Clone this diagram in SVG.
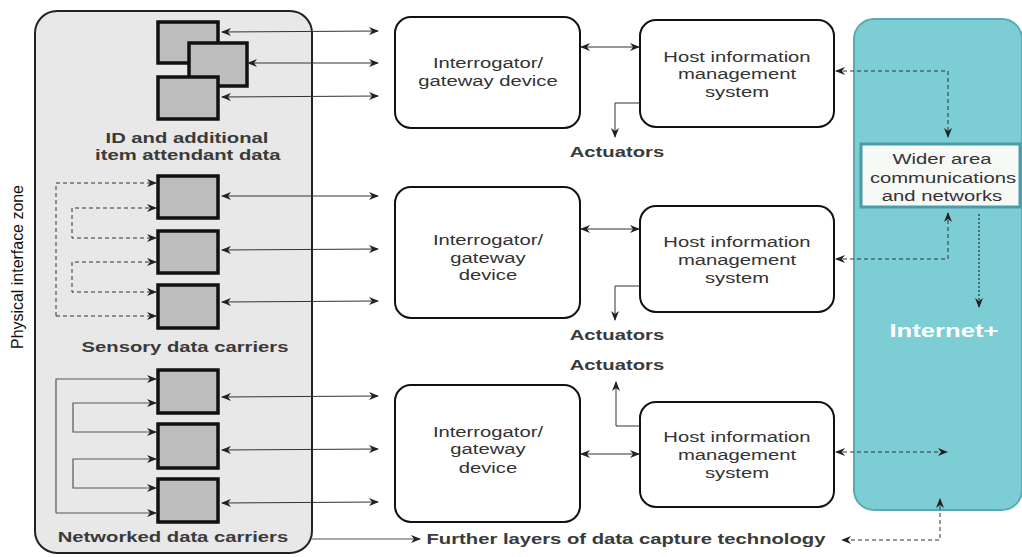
<svg xmlns="http://www.w3.org/2000/svg" width="1022" height="557" viewBox="0 0 1022 557">
<defs>
<marker id="ah" viewBox="0 0 10 8" refX="9" refY="4" markerWidth="10" markerHeight="8" markerUnits="userSpaceOnUse" orient="auto-start-reverse">
<path d="M0,0 L10,4 L0,8 L3,4 z" fill="#222"/>
</marker>
<style>
.lbl{font-family:"Liberation Sans",Arial,sans-serif;font-size:15px;fill:#333;text-anchor:middle;transform-box:fill-box;transform-origin:center;transform:scaleX(1.35)}
.vlbl{font-family:"Liberation Sans",Arial,sans-serif;font-size:17px;fill:#111;text-anchor:middle}
.bold{font-weight:bold;fill:#3a3a3a}
.sq{fill:#bdbdbd;stroke:#111;stroke-width:3.5}
.box{fill:#fff;stroke:#111;stroke-width:2}
.ln{fill:none;stroke:#333;stroke-width:1}
.gl{fill:none;stroke:#555;stroke-width:1.2}
.dash{fill:none;stroke:#333;stroke-width:1;stroke-dasharray:4,3}
.dot{fill:none;stroke:#333;stroke-width:1.3;stroke-dasharray:2,2}
</style>
</defs>
<rect width="1022" height="557" fill="#fff"/>

<g id="physical-zone">
<rect x="35" y="11" width="277" height="542" rx="22" fill="#e8e8e8" stroke="#222" stroke-width="2"/>
<text class="vlbl" transform="translate(23,267) rotate(-90)" textLength="164" lengthAdjust="spacingAndGlyphs">Physical interface zone</text>
</g>

<g id="internet">
<rect x="854" y="19" width="168" height="491" rx="20" fill="#7dcdd5" stroke="#5aaab4" stroke-width="2"/>
<text class="lbl bold" x="944" y="337" style="fill:#fff;font-size:19px">Internet+</text>
</g>

<g id="wider-area">
<rect x="861" y="144" width="159" height="63" fill="#f7f9f7" stroke="#4a9ca8" stroke-width="3"/>
<text class="lbl" x="942" y="164">Wider area</text>
<text class="lbl" x="943" y="183">communications</text>
<text class="lbl" x="942" y="201">and networks</text>
</g>

<g id="id-carriers">
<rect class="sq" x="158" y="22" width="60" height="41"/>
<rect class="sq" x="189" y="43" width="58" height="43"/>
<rect class="sq" x="158" y="77" width="60" height="42"/>
<text class="lbl bold" x="187" y="143">ID and additional</text>
<text class="lbl bold" x="188" y="160">item attendant data</text>
</g>

<g id="sensory-carriers">
<rect class="sq" x="158" y="176" width="60" height="42"/>
<rect class="sq" x="158" y="231" width="60" height="42"/>
<rect class="sq" x="158" y="285" width="60" height="43"/>
<text class="lbl bold" x="185" y="352">Sensory data carriers</text>
</g>

<g id="networked-carriers">
<rect class="sq" x="158" y="370" width="60" height="43"/>
<rect class="sq" x="158" y="424" width="60" height="44"/>
<rect class="sq" x="158" y="479" width="60" height="43"/>
<text class="lbl bold" x="173" y="542">Networked data carriers</text>
</g>

<g id="interrogator-1">
<rect class="box" x="395" y="17" width="185" height="111" rx="16"/>
<text class="lbl" x="488" y="68">Interrogator/</text>
<text class="lbl" x="488" y="86">gateway device</text>
</g>
<g id="host-1">
<rect class="box" x="640" y="20" width="194" height="107" rx="16"/>
<text class="lbl" x="737" y="62">Host information</text>
<text class="lbl" x="737" y="79">management</text>
<text class="lbl" x="737" y="97">system</text>
</g>
<g id="interrogator-2">
<rect class="box" x="395" y="187" width="185" height="131" rx="16"/>
<text class="lbl" x="488" y="245">Interrogator/</text>
<text class="lbl" x="488" y="263">gateway</text>
<text class="lbl" x="488" y="280">device</text>
</g>
<g id="host-2">
<rect class="box" x="640" y="206" width="194" height="106" rx="16"/>
<text class="lbl" x="737" y="247">Host information</text>
<text class="lbl" x="737" y="265">management</text>
<text class="lbl" x="737" y="283">system</text>
</g>
<g id="interrogator-3">
<rect class="box" x="395" y="385" width="185" height="137" rx="16"/>
<text class="lbl" x="488" y="437">Interrogator/</text>
<text class="lbl" x="488" y="454">gateway</text>
<text class="lbl" x="488" y="473">device</text>
</g>
<g id="host-3">
<rect class="box" x="640" y="402" width="194" height="105" rx="16"/>
<text class="lbl" x="737" y="442">Host information</text>
<text class="lbl" x="737" y="460">management</text>
<text class="lbl" x="737" y="478">system</text>
</g>

<g id="actuators">
<text class="lbl bold" x="617" y="157">Actuators</text>
<text class="lbl bold" x="617" y="340">Actuators</text>
<text class="lbl bold" x="617" y="370">Actuators</text>
</g>
<g id="further-layers">
<text class="lbl bold" x="626" y="544">Further layers of data capture technology</text>
</g>

<g id="connectors">
<line class="ln" x1="222" y1="32" x2="378" y2="31" marker-start="url(#ah)" marker-end="url(#ah)"/>
<line class="ln" x1="248" y1="63" x2="378" y2="63" marker-start="url(#ah)" marker-end="url(#ah)"/>
<line class="ln" x1="222" y1="97" x2="378" y2="96" marker-start="url(#ah)" marker-end="url(#ah)"/>
<line class="ln" x1="222" y1="196" x2="378" y2="196" marker-start="url(#ah)" marker-end="url(#ah)"/>
<line class="ln" x1="222" y1="250" x2="378" y2="249" marker-start="url(#ah)" marker-end="url(#ah)"/>
<line class="ln" x1="222" y1="302" x2="378" y2="301" marker-start="url(#ah)" marker-end="url(#ah)"/>
<polyline class="dash" points="56,316 56,183 156,183" marker-end="url(#ah)"/>
<line class="dash" x1="56" y1="316" x2="156" y2="316" marker-end="url(#ah)"/>
<polyline class="dash" points="156,208 72,208 72,238 156,238" marker-start="url(#ah)" marker-end="url(#ah)"/>
<polyline class="dash" points="156,262 72,262 72,292 156,292" marker-start="url(#ah)" marker-end="url(#ah)"/>
<line class="ln" x1="222" y1="397" x2="378" y2="396" marker-start="url(#ah)" marker-end="url(#ah)"/>
<line class="ln" x1="222" y1="450" x2="378" y2="449" marker-start="url(#ah)" marker-end="url(#ah)"/>
<line class="ln" x1="222" y1="503" x2="378" y2="502" marker-start="url(#ah)" marker-end="url(#ah)"/>
<polyline class="gl" points="56,513 56,379 156,379" marker-end="url(#ah)"/>
<line class="gl" x1="56" y1="513" x2="156" y2="513" marker-end="url(#ah)"/>
<polyline class="gl" points="156,403 73,403 73,432 156,432" marker-start="url(#ah)" marker-end="url(#ah)"/>
<polyline class="gl" points="156,459 73,459 73,488 156,488" marker-start="url(#ah)" marker-end="url(#ah)"/>
<line class="ln" x1="581" y1="47" x2="639" y2="47" marker-start="url(#ah)" marker-end="url(#ah)"/>
<line class="ln" x1="581" y1="229" x2="639" y2="229" marker-start="url(#ah)" marker-end="url(#ah)"/>
<line class="ln" x1="581" y1="454" x2="639" y2="454" marker-start="url(#ah)" marker-end="url(#ah)"/>
<polyline class="ln" points="640,103 615,103 615,137" marker-end="url(#ah)"/>
<polyline class="ln" points="640,286 615,286 615,320" marker-end="url(#ah)"/>
<polyline class="ln" points="640,426 616,426 616,382" marker-end="url(#ah)"/>
<line class="gl" x1="312" y1="539" x2="420" y2="539" marker-end="url(#ah)"/>
<polyline class="dash" points="836,71 948,71 948,137" marker-start="url(#ah)" marker-end="url(#ah)"/>
<polyline class="dash" points="836,259 948,259 948,213" marker-start="url(#ah)" marker-end="url(#ah)"/>
<line class="dot" x1="979" y1="214" x2="979" y2="307" marker-end="url(#ah)"/>
<line class="dash" x1="836" y1="452" x2="947" y2="452" marker-start="url(#ah)" marker-end="url(#ah)"/>
<polyline class="dash" points="940,499 940,540 842,540" marker-start="url(#ah)" marker-end="url(#ah)"/>
</g>
</svg>
